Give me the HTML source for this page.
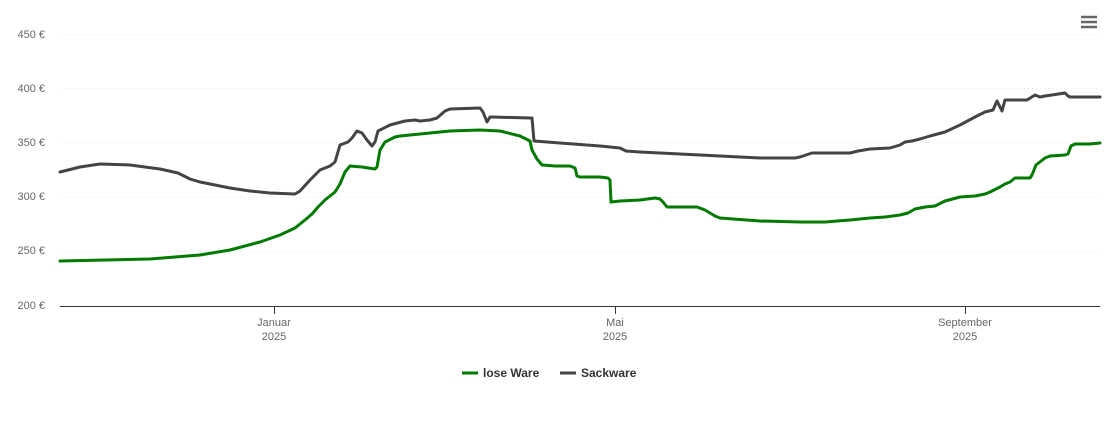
<!DOCTYPE html><html><head><meta charset="utf-8"><style>body{margin:0;background:#fff}svg{display:block;font-family:"Liberation Sans",sans-serif}</style></head><body>
<svg width="1110" height="423" viewBox="0 0 1110 423">
<g stroke="#e6e6e6" stroke-dasharray="1,3" stroke-width="1">
<line x1="60" x2="1100" y1="34.5" y2="34.5"/><line x1="60" x2="1100" y1="88.5" y2="88.5"/><line x1="60" x2="1100" y1="142.5" y2="142.5"/><line x1="60" x2="1100" y1="197.5" y2="197.5"/><line x1="60" x2="1100" y1="251.5" y2="251.5"/></g>
<line x1="60" x2="1100" y1="306.5" y2="306.5" stroke="#333"/>
<g stroke="#333"><line x1="274.5" x2="274.5" y1="306" y2="314"/><line x1="615.5" x2="615.5" y1="306" y2="314"/><line x1="965.5" x2="965.5" y1="306" y2="314"/></g>
<g font-size="11" fill="#666" text-anchor="end"><text x="45" y="38">450 €</text><text x="45" y="92">400 €</text><text x="45" y="146">350 €</text><text x="45" y="200">300 €</text><text x="45" y="254">250 €</text><text x="45" y="309">200 €</text></g>
<g font-size="11" fill="#666" text-anchor="middle"><text x="274" y="326">Januar</text><text x="274" y="340">2025</text><text x="615" y="326">Mai</text><text x="615" y="340">2025</text><text x="965" y="326">September</text><text x="965" y="340">2025</text></g>
<g fill="none" stroke-width="3" stroke-linejoin="round" stroke-linecap="round">
<polyline stroke="#444" points="60,172 80,167 100,164 130,165 160,169 178,173 190,179 200,182 230,188 250,191 270,193 295,194 300,191 310,180 320,170 330,166 335,162 340,145 348,142 352,138 357,131 362,133 367,140 372,146 375,142 378,131 390,125 405,121 415,120 420,121 430,120 437,118 445,111 450,109 480,108 483,112 487,122 490,117 492,117 530,118 532,118 534,141 560,143 600,146 620,148 626,151 640,152 700,155 760,158 795,158 800,157 812,153 850,153 858,151 870,149 890,148 900,145 905,142 912,141 920,139 930,136 945,132 960,125 975,117 985,112 993,110 997,101 1000,107 1002,111 1005,100 1027,100 1035,95 1040,97 1045,96 1065,93 1068,96 1070,97 1100,97"/>
<polyline stroke="#007a00" points="60,261 150,259 200,255 230,250 260,242 280,235 295,228 305,220 312,214 318,207 325,200 335,192 340,184 345,172 350,166 362,167 375,169 377,167 380,150 385,142 395,137 400,136 420,134 450,131 480,130 500,131 520,136 530,141 532,150 537,159 542,165 555,166 570,166 575,168 577,176 580,177 600,177 608,178 610,180 611,202 620,201 640,200 655,198 660,199 663,202 667,207 697,207 705,210 715,216 720,218 760,221 800,222 825,222 850,220 870,218 885,217 900,215 908,213 915,209 925,207 935,206 945,201 960,197 975,196 985,194 990,192 1000,187 1005,184 1010,182 1015,178 1030,178 1032,175 1036,165 1045,158 1050,156 1065,155 1068,154 1071,146 1075,144 1090,144 1100,143"/>
</g>
<g stroke="#666" stroke-width="2.5"><line x1="1081" x2="1097" y1="17" y2="17"/><line x1="1081" x2="1097" y1="22" y2="22"/><line x1="1081" x2="1097" y1="27" y2="27"/></g>
<g font-size="12" font-weight="bold" fill="#333">
<line x1="462" x2="478" y1="373" y2="373" stroke="#007a00" stroke-width="3"/><text x="483" y="377">lose Ware</text>
<line x1="560" x2="576" y1="373" y2="373" stroke="#444" stroke-width="3"/><text x="581" y="377">Sackware</text></g>
</svg></body></html>
